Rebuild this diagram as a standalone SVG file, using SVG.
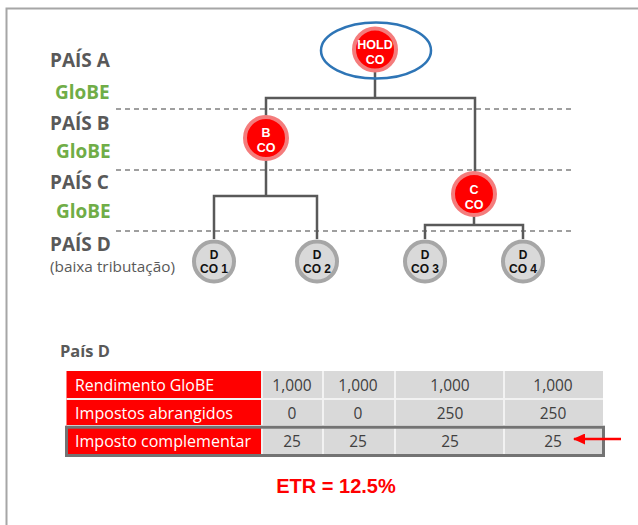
<svg xmlns="http://www.w3.org/2000/svg" width="638" height="525" viewBox="0 0 638 525">
  <style>
    .lbl { font-family: "Open Sans", "Liberation Sans", sans-serif; font-weight: 700; font-size: 19px; fill: #595959; }
    .globe { font-family: "Open Sans", "Liberation Sans", sans-serif; font-weight: 700; font-size: 19px; fill: #70ad47; }
    .sub { font-family: "Open Sans", "Liberation Sans", sans-serif; font-size: 15px; fill: #595959; }
    .red { fill: #ff0000; stroke: #f47c7c; stroke-width: 4; }
    .grey { fill: #d9d9d9; stroke: #a6a6a6; stroke-width: 4; }
    .nt { font-family: "Liberation Sans", Arial, sans-serif; font-weight: 700; text-anchor: middle; }
    .big { font-size: 12.5px; }
    .sm { font-size: 12px; }
    .wt { fill: #ffffff; }
    .bk { fill: #111111; }
    .link { fill: none; stroke: #595959; stroke-width: 2.5; }
    .dash { stroke: #808080; stroke-width: 1.5; stroke-dasharray: 5 4; }
    .cellR { fill: #ff0000; }
    .cellG { fill: #d9d9d9; }
    .th { font-family: "Open Sans", "Liberation Sans", sans-serif; font-size: 16px; fill: #ffffff; }
    .td { font-family: "Open Sans", "Liberation Sans", sans-serif; font-size: 15.5px; fill: #404040; text-anchor: middle; }
  </style>
  <defs>
    <marker id="ah" markerWidth="12" markerHeight="11" refX="11" refY="5.5" orient="auto" markerUnits="userSpaceOnUse">
      <path d="M0,0 L12,5.5 L0,11 Z" fill="#ff0000"/>
    </marker>
  </defs>

  <rect width="638" height="525" fill="#ffffff"/>
  <!-- frame -->
  <path d="M6.5,525 V8.5 H638" fill="none" stroke="#a6a6a6" stroke-width="2"/>

  <!-- country bands -->
  <g id="bands">
    <line class="dash" x1="116" y1="109" x2="571" y2="109"/>
    <line class="dash" x1="116" y1="170" x2="571" y2="170"/>
    <line class="dash" x1="116" y1="231" x2="571" y2="231"/>
  </g>

  <g id="labels">
    <text class="lbl" x="50" y="67">PAÍS A</text>
    <text class="globe" x="55" y="99">GloBE</text>
    <text class="lbl" x="50" y="130">PAÍS B</text>
    <text class="globe" x="56" y="158">GloBE</text>
    <text class="lbl" x="50" y="189">PAÍS C</text>
    <text class="globe" x="56" y="218">GloBE</text>
    <text class="lbl" x="50" y="251">PAÍS D</text>
    <text class="sub" x="50" y="272" textLength="125" lengthAdjust="spacingAndGlyphs">(baixa tributação)</text>
  </g>

  <!-- connectors -->
  <g id="connectors">
    <path class="link" d="M375,72 V98 M266,117 V98 H475 V172"/>
    <path class="link" d="M266,160 V196 M214,239 V196 H317 V239"/>
    <path class="link" d="M474,216 V225 M425,239 V225 H523 V239"/>
  </g>

  <g id="holdco">
    <ellipse cx="376" cy="50.5" rx="55" ry="28" fill="none" stroke="#2e75b6" stroke-width="2.5"/>
    <circle class="red" cx="375" cy="49.5" r="21"/>
    <text class="nt big wt" x="375" y="49">HOLD</text>
    <text class="nt big wt" x="375" y="64">CO</text>
  </g>
  <g id="bco">
    <circle class="red" cx="266" cy="138" r="21"/>
    <text class="nt big wt" x="266" y="137">B</text>
    <text class="nt big wt" x="266" y="152">CO</text>
  </g>
  <g id="cco">
    <circle class="red" cx="474" cy="194" r="21"/>
    <text class="nt big wt" x="474" y="194">C</text>
    <text class="nt big wt" x="474" y="209">CO</text>
  </g>
  <g id="dco1">
    <circle class="grey" cx="214" cy="261.5" r="20"/>
    <text class="nt sm bk" x="214" y="258.5">D</text>
    <text class="nt sm bk" x="214" y="272.5">CO 1</text>
  </g>
  <g id="dco2">
    <circle class="grey" cx="317" cy="261.5" r="20"/>
    <text class="nt sm bk" x="317" y="258.5">D</text>
    <text class="nt sm bk" x="317" y="272.5">CO 2</text>
  </g>
  <g id="dco3">
    <circle class="grey" cx="425" cy="261.5" r="20"/>
    <text class="nt sm bk" x="425" y="258.5">D</text>
    <text class="nt sm bk" x="425" y="272.5">CO 3</text>
  </g>
  <g id="dco4">
    <circle class="grey" cx="523" cy="261.5" r="20"/>
    <text class="nt sm bk" x="523" y="258.5">D</text>
    <text class="nt sm bk" x="523" y="272.5">CO 4</text>
  </g>

  <!-- País D table -->
  <g id="table">
    <text x="60" y="357" font-family="Open Sans, Liberation Sans, sans-serif" font-weight="700" font-size="16.5" fill="#595959" textLength="50" lengthAdjust="spacingAndGlyphs">País D</text>
    <rect class="cellR" x="66.5" y="371" width="195.5" height="83"/>
    <rect class="cellG" x="262" y="371" width="341" height="83"/>
    <g stroke="#f2f2f2" stroke-width="2">
      <line x1="66.5" y1="399" x2="603" y2="399"/>
      <line x1="66.5" y1="426" x2="603" y2="426"/>
      <line x1="262" y1="371" x2="262" y2="454"/>
      <line x1="323" y1="371" x2="323" y2="454"/>
      <line x1="395" y1="371" x2="395" y2="454"/>
      <line x1="504" y1="371" x2="504" y2="454"/>
    </g>
    <text class="th" x="75" y="390.5" textLength="139" lengthAdjust="spacingAndGlyphs">Rendimento GloBE</text>
    <text class="th" x="75" y="419" textLength="158" lengthAdjust="spacingAndGlyphs">Impostos abrangidos</text>
    <text class="th" x="75" y="446.5" textLength="176" lengthAdjust="spacingAndGlyphs">Imposto complementar</text>
    <text class="td" x="292" y="390.5">1,000</text>
    <text class="td" x="358" y="390.5">1,000</text>
    <text class="td" x="450" y="390.5">1,000</text>
    <text class="td" x="553" y="390.5">1,000</text>
    <text class="td" x="292" y="419">0</text>
    <text class="td" x="358" y="419">0</text>
    <text class="td" x="450" y="419">250</text>
    <text class="td" x="553" y="419">250</text>
    <text class="td" x="292" y="446.5">25</text>
    <text class="td" x="358" y="446.5">25</text>
    <text class="td" x="450" y="446.5">25</text>
    <text class="td" x="553" y="446.5">25</text>
    <rect x="66.5" y="427.2" width="537" height="28.3" fill="none" stroke="#737373" stroke-width="3"/>
    <line x1="621" y1="439" x2="574" y2="439" stroke="#ff0000" stroke-width="2.5" marker-end="url(#ah)"/>
  </g>

  <text x="336" y="493" text-anchor="middle" font-family="Liberation Sans, Arial, sans-serif" font-weight="700" font-size="20" fill="#ff0000">ETR = 12.5%</text>
</svg>
